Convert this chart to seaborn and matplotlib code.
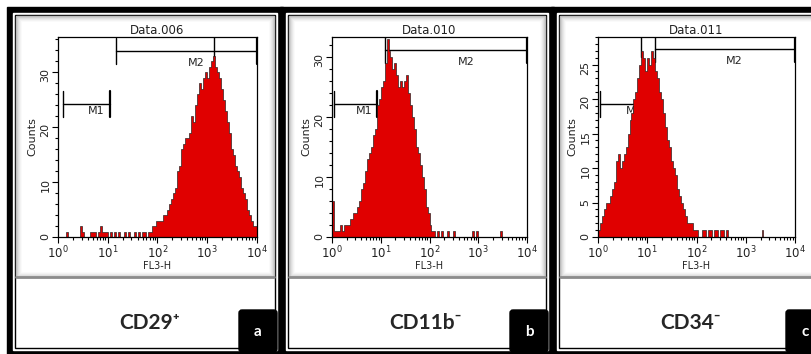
import numpy as np
import matplotlib.pyplot as plt
import seaborn as sns
from matplotlib.patches import Rectangle, FancyBboxPatch
from matplotlib.ticker import MultipleLocator, LogLocator, NullFormatter

sns.set_theme(style="ticks")
plt.rcParams['font.family'] = ['DejaVu Sans']

# --- data: FL3-H histograms, channel centres in log10 decades ---
channels = np.linspace(0.02, 3.98, 100)

counts_a = [0, 0, 0, 0, 1, 0, 0, 0, 0, 0,
            0, 2, 1, 0, 0, 0, 1, 1, 1, 0,
            1, 2, 1, 1, 1, 0, 1, 0, 1, 0,
            1, 0, 0, 1, 0, 1, 0, 0, 1, 0,
            1, 0, 1, 1, 0, 1, 1, 2, 2, 3,
            3, 3, 3, 4, 4, 5, 6, 7, 8, 9,
            12, 13, 16, 17, 18, 18, 19, 22, 21, 24,
            26, 28, 27, 29, 30, 29, 31, 32, 33, 31,
            30, 29, 27, 25, 23, 21, 19, 16, 15, 13,
            12, 11, 9, 8, 7, 5, 4, 3, 2, 2]

counts_b = [6, 1, 1, 1, 2, 1, 2, 2, 2, 3,
            3, 4, 4, 5, 6, 8, 9, 11, 13, 14,
            15, 17, 18, 22, 23, 25, 26, 29, 33, 31,
            30, 28, 29, 27, 25, 26, 25, 26, 27, 24,
            22, 20, 18, 15, 14, 12, 10, 8, 5, 4,
            2, 1, 1, 0, 1, 0, 1, 0, 0, 1,
            0, 0, 1, 0, 0, 0, 0, 0, 0, 0,
            0, 0, 1, 0, 1, 0, 0, 0, 0, 0,
            0, 0, 0, 0, 0, 0, 1, 0, 0, 0,
            0, 0, 0, 0, 0, 0, 0, 0, 0, 0]

counts_c = [1, 2, 3, 4, 5, 5, 6, 7, 8, 11,
            12, 10, 11, 12, 13, 15, 17, 18, 20, 21,
            23, 25, 27, 26, 24, 26, 25, 27, 26, 24,
            23, 21, 20, 18, 16, 14, 13, 11, 10, 9,
            7, 6, 5, 4, 3, 2, 2, 2, 1, 1,
            1, 0, 0, 1, 1, 0, 1, 1, 0, 1,
            1, 0, 1, 1, 0, 1, 0, 0, 0, 0,
            0, 0, 0, 0, 0, 0, 0, 0, 0, 0,
            0, 0, 0, 1, 0, 0, 0, 0, 0, 0,
            0, 0, 0, 0, 0, 0, 0, 0, 0, 0]

titles = ["Data.006", "Data.010", "Data.011"]
markers = ["CD29\u207a", "CD11b\u207b", "CD34\u207b"]
letters = ["a", "b", "c"]
y_max = [36.4, 33.3, 29.0]
y_major = [10, 10, 5]
y_minor = [2, 2, 1]
# gates: (start, end, level)
m1_gate = [(1.26, 11.0, 24.2), (1.12, 8.3, 22.1), (1.12, 10.5, 19.3)]
m2_gate = [(14.5, 10000, 33.9), (12.3, 10000, 31.1), (14.1, 10000, 27.2)]
cursor = [1350, None, 7.4]

# --- layout (pixels) ---
W, H = 812, 354
panel_x = [(7, 283), (280, 554), (551, 830)]
axes_x = [(58, 257), (332, 527), (598, 795)]
ax_top, ax_bot = 37, 237
label_cx = [150, 426, 691]

fig = plt.figure(figsize=(W / 100, H / 100), dpi=100)
fig.patch.set_facecolor("white")

bg = fig.add_axes([0, 0, 1, 1], zorder=0)
bg.set_xlim(0, W)
bg.set_ylim(H, 0)
bg.axis("off")

for k in range(3):
    x0, x1 = panel_x[k]
    # frame: thick black, white gap, thin black line
    bg.add_patch(Rectangle((x0, 7), x1 - x0, H + 10, color="black"))
    bg.add_patch(Rectangle((x0 + 6, 13), x1 - x0 - 12, 337, color="white"))
    bg.add_patch(Rectangle((x0 + 8, 15), x1 - x0 - 16, 333, fill=False, ec="black", lw=1))
    # cytometry window with soft inner shade
    shades = ["#b8b8b8", "#cccccc", "#dcdcdc", "#e8e8e8", "#f2f2f2", "#fafafa"]
    for j, c in enumerate(shades):
        bg.add_patch(Rectangle((x0 + 9 + j, 16 + j), x1 - x0 - 18 - 2 * j, 261 - 2 * j, color=c))
    bg.add_patch(Rectangle((x0 + 15, 22), x1 - x0 - 30, 249, color="white"))
    bg.plot([x0 + 9, x1 - 9], [277, 277], color="#8c8c8c", lw=2)
    # marker name and panel letter
    bg.text(label_cx[k], 323, markers[k], fontsize=15, fontweight="bold",
            family=["Lato", "DejaVu Sans"], ha="center", va="center")
    bg.add_patch(FancyBboxPatch((x1 - 44, 310), 38, 42,
                                boxstyle="round,pad=0,rounding_size=3", color="black"))
    bg.text(x1 - 25, 332, letters[k], fontsize=11, fontweight="bold",
            color="white", ha="center", va="center", family=["Lato", "DejaVu Sans"])

all_counts = [counts_a, counts_b, counts_c]

for k in range(3):
    l, r = axes_x[k]
    ax = fig.add_axes([l / W, 1 - ax_bot / H, (r - l) / W, (ax_bot - ax_top) / H], zorder=2)
    ax.set_facecolor("white")
    top = y_max[k]
    half = 13 / 200 * top

    # gates drawn under the histogram
    for (g0, g1, lev), name, frac, drop in [(m1_gate[k], "M1", 0.7, 2), (m2_gate[k], "M2", 0.57, 7)]:
        ax.plot([g0, g1], [lev, lev], color="black", lw=1, zorder=0.5)
        ax.plot([g0, g0], [lev - half, lev + half], color="black", lw=1, zorder=0.5)
        ax.plot([g1, g1], [lev - half, lev + half], color="black", lw=1.6, zorder=0.5)
        lx = 10 ** (np.log10(g0) + frac * (np.log10(g1) - np.log10(g0)))
        ax.text(lx, lev - drop / 200 * top, name, fontsize=8, ha="center", va="top", zorder=0.5)
    if cursor[k] is not None:
        ax.plot([cursor[k], cursor[k]], [m2_gate[k][2] - half * 0.6, top], color="black", lw=1, zorder=0.5)

    sns.histplot(x=10 ** channels, weights=all_counts[k], bins=100, binrange=(0, 4),
                 log_scale=True, element="step", fill=True, color="#e00000",
                 edgecolor="#1a1a1a", linewidth=0.45, alpha=1, ax=ax)

    ax.set_xlim(1, 1e4)
    ax.set_ylim(0, top)
    ax.xaxis.set_major_locator(LogLocator(base=10, numticks=6))
    ax.xaxis.set_minor_locator(LogLocator(base=10, subs=np.arange(2, 10), numticks=20))
    ax.xaxis.set_minor_formatter(NullFormatter())
    ax.yaxis.set_major_locator(MultipleLocator(y_major[k]))
    ax.yaxis.set_minor_locator(MultipleLocator(y_minor[k]))
    ax.tick_params(which="both", direction="out", color="black", width=0.8, labelcolor="#222222")
    ax.tick_params(which="major", length=4, labelsize=8.5, pad=1.5)
    ax.tick_params(which="minor", length=2.5)
    ax.tick_params(axis="y", labelrotation=90, labelsize=8)
    for s in ax.spines.values():
        s.set_color("black")
        s.set_linewidth(0.9)
    ax.set_title(titles[k], fontsize=8.5, pad=2, color="#222222")
    ax.set_xlabel("FL3-H", fontsize=7, labelpad=0, color="#222222")
    ax.set_ylabel("Counts", fontsize=8, labelpad=2, color="#222222")

fig.savefig("out.png", dpi=100)
